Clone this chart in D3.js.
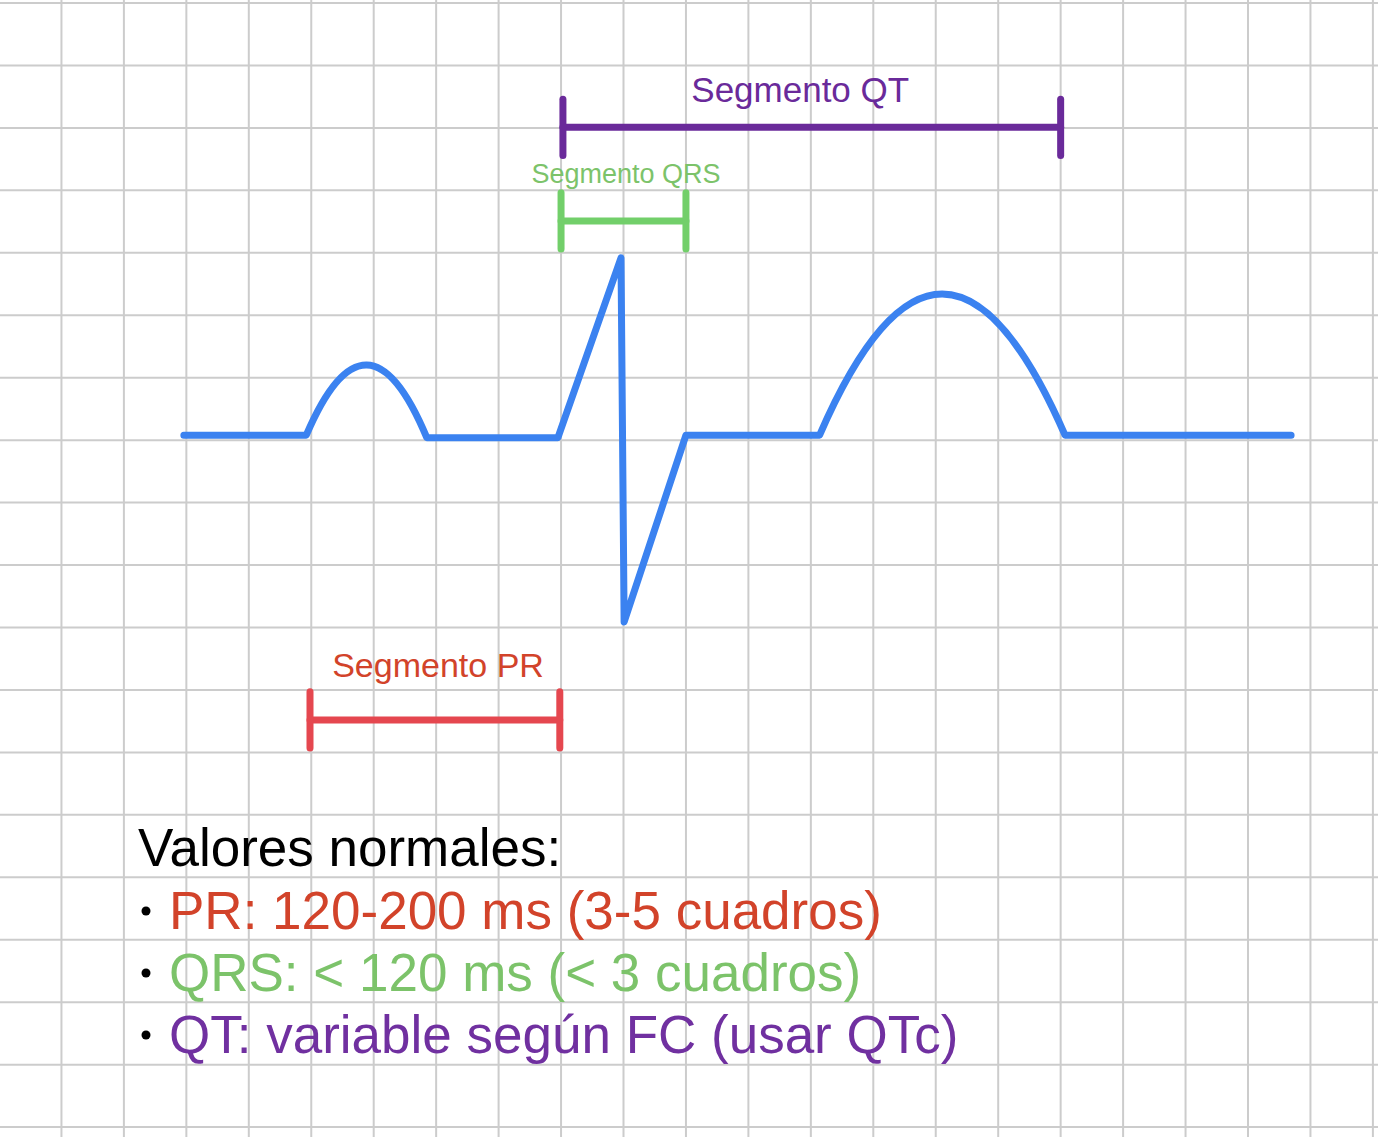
<!DOCTYPE html><html><head><meta charset="utf-8"><script src="https://cdn.jsdelivr.net/npm/d3@7"></script>
<style>body{margin:0;background:#fff}text{font-family:"Liberation Sans",Arial,sans-serif}</style></head><body><svg id="c" width="1378" height="1137"></svg><script>
// ECG trace in grid units (x: squares, y: squares from top)
const ecgX=[2.96,4.92,5.89,6.85,8.95,9.96,10.01,11.0,13.14,15.12,17.07,20.69];
const ecgY=[6.92,6.92,5.8,6.96,6.96,4.08,9.91,6.92,6.92,4.66,6.92,6.92];
const segNames=["Segmento QT","Segmento QRS","Segmento PR"];
const segStart=[9.03,9.0,4.98];
const segEnd=[17.0,11.0,8.98];
const segLevel=[1.99,3.49,11.48];
const labelX=[12.83,10.04,7.03];
const segColors=["#6a2a9a","#72cf6a","#e5474f"];
const labelColors=["#6a2a9a","#7cc36a","#d2432a"];
const legendLines=["PR: 120-200 ms (3-5 cuadros)","QRS: < 120 ms (< 3 cuadros)","QT: variable según FC (usar QTc)"];
const legendColors=["#d2432a","#7cc36a","#7030a0"];
const svg=d3.select("#c");
const x=d3.scaleLinear().domain([0,1]).range([-1,61.45]);
const y=d3.scaleLinear().domain([0,1]).range([3,65.45]);
const g=svg.append("g");
d3.range(0,23).forEach(i=>g.append("line").attr("x1",x(i)).attr("x2",x(i)).attr("y1",0).attr("y2",1137).attr("stroke","#cccccc").attr("stroke-width",2));
d3.range(0,19).forEach(i=>g.append("line").attr("y1",y(i)).attr("y2",y(i)).attr("x1",0).attr("x2",1378).attr("stroke","#cccccc").attr("stroke-width",2));
const pts=ecgX.map((v,i)=>[x(v),y(ecgY[i])]);
let d="M"+pts[0]+"L"+pts[1];
d+="Q"+[x(5.89),y(4.65)]+" "+pts[3];
d+="L"+pts[4]+"L"+pts[5]+"L"+pts[6]+"L"+pts[7]+"L"+pts[8];
d+="Q"+[x(15.1),y(2.4)]+" "+pts[10];
d+="L"+pts[11];
svg.append("path").attr("d",d).attr("fill","none").attr("stroke","#3b82f0").attr("stroke-width",7).attr("stroke-linecap","round").attr("stroke-linejoin","round");
const fs=[35,27,34],lab=[-0.38,-0.58,-0.66];
segNames.forEach((n,i)=>{
  const s=svg.append("g").attr("stroke",segColors[i]).attr("stroke-width",7).attr("stroke-linecap","round");
  s.append("line").attr("x1",x(segStart[i])).attr("x2",x(segEnd[i])).attr("y1",y(segLevel[i])).attr("y2",y(segLevel[i]));
  [segStart[i],segEnd[i]].forEach(v=>s.append("line").attr("x1",x(v)).attr("x2",x(v)).attr("y1",y(segLevel[i]-0.45)).attr("y2",y(segLevel[i]+0.45)));
  svg.append("text").attr("x",x(labelX[i])).attr("y",y(segLevel[i]+lab[i]-0.02)).attr("text-anchor","middle").attr("font-size",fs[i]).attr("fill",labelColors[i]).text(n);
});
svg.append("text").attr("x",138).attr("y",866).attr("font-size",53).attr("fill","#000").text("Valores normales:");
legendLines.forEach((t,i)=>{
  svg.append("circle").attr("cx",146).attr("cy",911+62*i).attr("r",4.5).attr("fill","#000");
  svg.append("text").attr("x",169).attr("y",929+62*i).attr("font-size",53).attr("fill",legendColors[i]).text(t);
});
</script></body></html>
